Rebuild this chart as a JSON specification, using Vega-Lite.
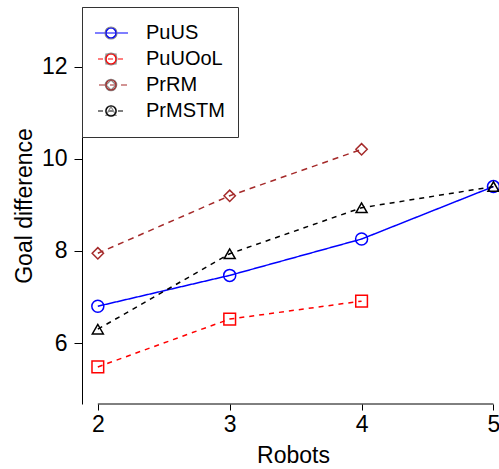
{
  "$schema": "https://vega.github.io/schema/vega-lite/v6.json",
  "width": 422,
  "height": 397,
  "autosize": {"type": "none"},
  "padding": {"left": 82, "top": 7, "right": 0, "bottom": 65},
  "config": {
    "view": {"stroke": null},
    "font": "Liberation Sans",
    "axis": {"grid": false, "labelColor": "black", "titleColor": "black", "tickColor": "black", "domainColor": "black", "labelFontSize": 23, "titleFontSize": 23, "titleFontWeight": "normal"}
  },
  "data": {
    "values": [
      {"series": "PuUS", "robots": 2, "goal": 6.80},
      {"series": "PuUS", "robots": 3, "goal": 7.47},
      {"series": "PuUS", "robots": 4, "goal": 8.26},
      {"series": "PuUS", "robots": 5, "goal": 9.40},
      {"series": "PuUOoL", "robots": 2, "goal": 5.48},
      {"series": "PuUOoL", "robots": 3, "goal": 6.52},
      {"series": "PuUOoL", "robots": 4, "goal": 6.91},
      {"series": "PrRM", "robots": 2, "goal": 7.95},
      {"series": "PrRM", "robots": 3, "goal": 9.20},
      {"series": "PrRM", "robots": 4, "goal": 10.21},
      {"series": "PrMSTM", "robots": 2, "goal": 6.30},
      {"series": "PrMSTM", "robots": 3, "goal": 7.94},
      {"series": "PrMSTM", "robots": 4, "goal": 8.94},
      {"series": "PrMSTM", "robots": 5, "goal": 9.40}
    ]
  },
  "layer": [
    {
      "mark": {"type": "line", "strokeWidth": 1.5},
      "encoding": {
        "x": {"field": "robots", "type": "quantitative", "scale": {"domain": [1.88, 5.08], "nice": false, "zero": false},
              "axis": {"title": "Robots", "values": [2, 3, 4, 5], "domain": false, "tickSize": 6, "labelPadding": 3, "titlePadding": 8, "labelFlush": false, "format": "d"}},
        "y": {"field": "goal", "type": "quantitative", "scale": {"domain": [4.674, 13.304], "nice": false, "zero": false},
              "axis": {"title": "Goal difference", "values": [6, 8, 10, 12], "tickSize": 8, "labelPadding": 7, "titlePadding": 5, "format": "d"}},
        "color": {"field": "series", "type": "nominal",
                  "scale": {"domain": ["PuUS", "PuUOoL", "PrRM", "PrMSTM"], "range": ["#0000ff", "#ff0000", "#a52a2a", "#000000"]},
                  "legend": {"title": null, "orient": "none", "legendX": 0, "legendY": 0, "symbolType": "stroke", "symbolSize": 1600, "symbolStrokeWidth": 1.2, "symbolOffset": -8, "clipHeight": 26, "rowPadding": 0, "labelFontSize": 20, "labelColor": "black", "labelOffset": 17, "padding": 13, "strokeColor": "#333333", "fillColor": "white",
                             "labelExpr": "datum.label + '\u00a0'"}},
        "strokeDash": {"field": "series", "type": "nominal",
                       "scale": {"domain": ["PuUS", "PuUOoL", "PrRM", "PrMSTM"], "range": [[1, 0], [5, 5], [6, 5], [5, 5]]},
                       "legend": {"title": null, "orient": "none", "legendX": 0, "legendY": 0, "symbolType": "stroke", "symbolSize": 1600, "symbolStrokeWidth": 1.2, "symbolOffset": -8, "clipHeight": 26, "rowPadding": 0, "labelFontSize": 20, "labelColor": "black", "labelOffset": 17, "padding": 13, "strokeColor": "#333333", "fillColor": "white",
                                  "labelExpr": "datum.label + '\u00a0'"}}
      }
    },
    {
      "mark": {"type": "point", "filled": false, "strokeWidth": 1.5, "opacity": 1},
      "encoding": {
        "x": {"field": "robots", "type": "quantitative"},
        "y": {"field": "goal", "type": "quantitative"},
        "stroke": {"field": "series", "type": "nominal", "sort": ["PuUS", "PuUOoL", "PrRM", "PrMSTM"],
                   "scale": {"range": ["#0000ff", "#ff0000", "#a52a2a", "#000000"]},
                   "legend": {"title": null, "orient": "none", "legendX": 0, "legendY": 0, "symbolStrokeWidth": 1.2, "symbolFillColor": "transparent", "symbolOffset": 6, "clipHeight": 26, "rowPadding": 0, "labelFontSize": 20, "labelColor": "transparent", "padding": 13}},
        "shape": {"field": "series", "type": "nominal", "sort": ["PuUS", "PuUOoL", "PrRM", "PrMSTM"],
                  "scale": {"range": ["circle", "square", "diamond", "triangle-up"]},
                  "legend": {"title": null, "orient": "none", "legendX": 0, "legendY": 0, "symbolStrokeWidth": 1.2, "symbolFillColor": "transparent", "symbolOffset": 6, "clipHeight": 26, "rowPadding": 0, "labelFontSize": 20, "labelColor": "transparent", "padding": 13}},
        "size": {"field": "series", "type": "nominal", "sort": ["PuUS", "PuUOoL", "PrRM", "PrMSTM"],
                 "scale": {"range": [144, 121, 200, 210]},
                 "legend": {"title": null, "orient": "none", "legendX": 0, "legendY": 0, "symbolStrokeWidth": 1.2, "symbolFillColor": "transparent", "symbolOffset": 6, "clipHeight": 26, "rowPadding": 0, "labelFontSize": 20, "labelColor": "transparent", "padding": 13}}
      }
    },
    {
      "data": {"values": [{}]},
      "mark": {"type": "rule", "color": "black", "strokeWidth": 1},
      "encoding": {"x": {"datum": 2}, "x2": {"datum": 5}, "y": {"datum": 4.674}}
    }
  ]
}
